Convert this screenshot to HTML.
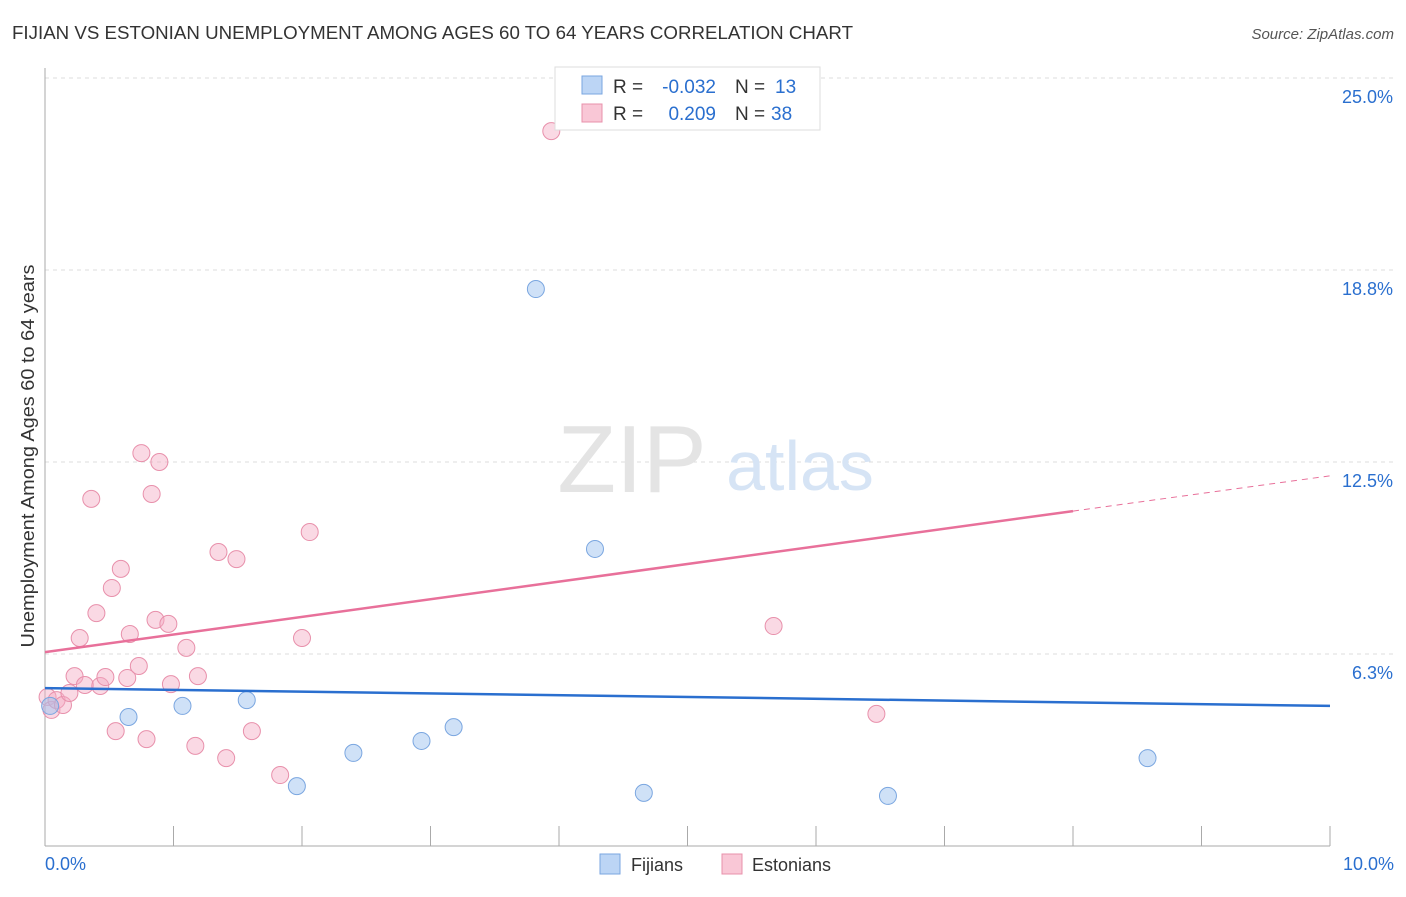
<!DOCTYPE html>
<html><head><meta charset="utf-8"><style>
body{margin:0;background:#fff;font-family:"Liberation Sans",sans-serif}
svg text{font-family:"Liberation Sans",sans-serif}
</style></head><body>
<svg id="c" width="1406" height="892">
<text x="12" y="39" font-size="18" fill="#333" textLength="841" lengthAdjust="spacingAndGlyphs">FIJIAN VS ESTONIAN UNEMPLOYMENT AMONG AGES 60 TO 64 YEARS CORRELATION CHART</text>
<text x="1394" y="39" font-size="15" fill="#555" font-style="italic" text-anchor="end">Source: ZipAtlas.com</text>
<text x="34" y="456" font-size="18" fill="#333" text-anchor="middle" textLength="383" lengthAdjust="spacingAndGlyphs" transform="rotate(-90 34 456)">Unemployment Among Ages 60 to 64 years</text>
<g id="grid"></g>
<text x="632" y="492" font-size="96" fill="#e4e4e4" font-family="Liberation Serif" text-anchor="middle">ZIP</text>
<text x="800" y="490" font-size="70" fill="#d6e4f5" text-anchor="middle">atlas</text>
<g id="marks"></g>
<g font-size="19">
<rect x="555" y="67" width="265" height="63" fill="#fff" stroke="#ddd"/>
<rect x="582" y="76" width="20" height="18" fill="#bcd5f5" stroke="#7aa6e0"/>
<rect x="582" y="104" width="20" height="18" fill="#f9c7d6" stroke="#e890ab"/>
<text x="613" y="93" fill="#333">R =</text><text x="716" y="93" fill="#2a6fcf" text-anchor="end">-0.032</text>
<text x="735" y="93" fill="#333">N =</text><text x="775" y="93" fill="#2a6fcf">13</text>
<text x="613" y="120" fill="#333">R =</text><text x="716" y="120" fill="#2a6fcf" text-anchor="end">0.209</text>
<text x="735" y="120" fill="#333">N =</text><text x="771" y="120" fill="#2a6fcf">38</text>
</g>
<g>
<rect x="600" y="854" width="20" height="20" fill="#bcd5f5" stroke="#7aa6e0"/>
<text x="631" y="871" font-size="18" fill="#333">Fijians</text>
<rect x="722" y="854" width="20" height="20" fill="#f9c7d6" stroke="#e890ab"/>
<text x="752" y="871" font-size="18" fill="#333">Estonians</text>
</g>
</svg>
<script>
const yTicks=[6.25,12.5,18.75,25];
const yTickLabels=["6.3%","12.5%","18.8%","25.0%"];
const fijX=[0.04,0.65,1.07,1.57,1.96,2.40,2.93,3.18,3.82,4.28,4.66,6.56,8.58];
const fijY=[4.56,4.20,4.56,4.75,1.95,3.03,3.42,3.87,18.13,9.67,1.73,1.63,2.86];
const estX=[0.02,0.05,0.09,0.14,0.19,0.23,0.27,0.31,0.36,0.40,0.43,0.47,0.52,0.55,0.59,0.64,0.66,0.73,0.75,0.79,0.83,0.86,0.89,0.96,0.98,1.10,1.17,1.19,1.35,1.41,1.49,1.61,1.83,2.00,2.06,3.94,5.67,6.47];
const estY=[4.85,4.43,4.75,4.59,4.98,5.53,6.77,5.24,11.30,7.58,5.21,5.50,8.40,3.74,9.02,5.47,6.90,5.86,12.79,3.48,11.46,7.36,12.50,7.23,5.27,6.45,3.26,5.53,9.57,2.86,9.34,3.74,2.31,6.77,10.22,23.27,7.16,4.30];
const fijTrend=[5.14,4.56];
const estTrend=[6.31,12.05];
const NS="http://www.w3.org/2000/svg";
const X=v=>45+v*128.5, Y=v=>846-v*30.72;
function mk(t,a,p){const e=document.createElementNS(NS,t);for(const k in a)e.setAttribute(k,a[k]);p.appendChild(e);return e;}
const g=document.getElementById('grid'), m=document.getElementById('marks');
yTicks.forEach((t,i)=>{
 const l=mk('line',{x1:45,x2:1394,y1:Y(t),y2:Y(t),stroke:'#ddd','stroke-dasharray':'4 4'},g);
 
 
 const tx=mk('text',{x:1393,y:Y(t)+25,'font-size':18,fill:'#2a6fcf','text-anchor':'end'},g);
 tx.textContent=yTickLabels[i];
 
 
});
mk('line',{x1:45,x2:45,y1:68,y2:846,stroke:'#aaa'},g);
mk('line',{x1:45,x2:1330,y1:846,y2:846,stroke:'#aaa'},g);
for(let i=0;i<=10;i++){const l=mk('line',{x1:X(i),x2:X(i),y1:826,y2:846,stroke:'#aaa'},g);
 
 }
const x0=mk('text',{x:45,y:870,'font-size':18,fill:'#2a6fcf'},g);x0.textContent='0.0%';


const x1=mk('text',{x:1394,y:870,'font-size':18,fill:'#2a6fcf','text-anchor':'end'},g);x1.textContent='10.0%';


estX.forEach((v,i)=>{const c=mk('circle',{cx:X(v),cy:Y(estY[i]),r:8.5,fill:'rgba(245,170,195,0.45)',stroke:'#e890ab'},m);
 
 });
fijX.forEach((v,i)=>{const c=mk('circle',{cx:X(v),cy:Y(fijY[i]),r:8.5,fill:'rgba(160,195,240,0.5)',stroke:'#7aa6e0'},m);
 
 });
const fl=mk('line',{x1:X(0),y1:Y(fijTrend[0]),x2:X(10),y2:Y(fijTrend[1]),stroke:'#2a6fcf','stroke-width':2.5},m);


const ey8=estTrend[0]+(estTrend[1]-estTrend[0])*0.8;
const el=mk('line',{x1:X(0),y1:Y(estTrend[0]),x2:X(8),y2:Y(ey8),stroke:'#e8709a','stroke-width':2.5},m);


const ed=mk('line',{x1:X(8),y1:Y(ey8),x2:X(10),y2:Y(estTrend[1]),stroke:'#e8709a','stroke-width':1,'stroke-dasharray':'6 5'},m);


</script>
</body></html>
